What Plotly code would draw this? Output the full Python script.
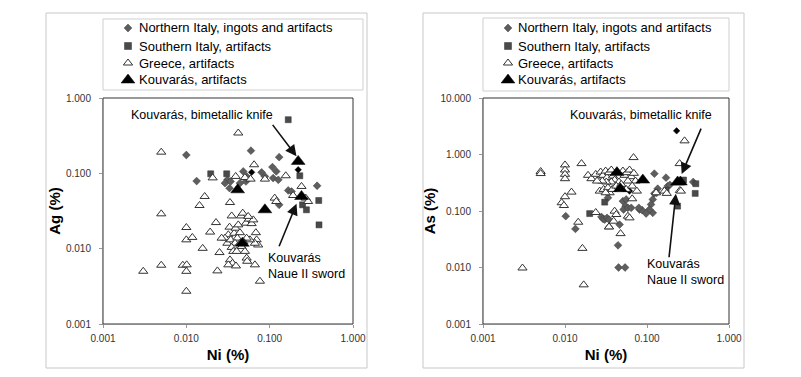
import numpy as np
import plotly.graph_objects as go

# ---------------- data: left panel (Ni vs Ag) ----------------
ag_ni_north_x = [0.010, 0.0133, 0.0596, 0.130, 0.0311, 0.0291, 0.033, 0.0482, 0.0529, 0.0519, 0.044,
                 0.080, 0.0877, 0.108, 0.120, 0.110, 0.127, 0.167, 0.183, 0.371, 0.130, 0.034]
ag_north = [0.175, 0.079, 0.200, 0.164, 0.082, 0.0741, 0.0636, 0.106, 0.091, 0.078, 0.0741,
            0.103, 0.091, 0.121, 0.106, 0.0864, 0.082, 0.0593, 0.0574, 0.0684, 0.0382, 0.078]

ag_ni_south_x = [0.0196, 0.0305, 0.167, 0.230, 0.388, 0.248, 0.276, 0.391]
ag_south = [0.0986, 0.0986, 0.515, 0.0928, 0.0436, 0.0382, 0.0328, 0.0207]

ag_ni_greece_x = [0.005, 0.005, 0.005, 0.00304, 0.010, 0.010, 0.0118, 0.00906, 0.0101, 0.010, 0.010,
                  0.0144, 0.0166, 0.0207, 0.0157, 0.0193, 0.0227, 0.0236, 0.025,
                  0.0334, 0.035, 0.0391, 0.042, 0.065, 0.0505, 0.059, 0.0877, 0.156,
                  0.241, 0.191, 0.271, 0.289, 0.115, 0.120,
                  0.0330, 0.0319, 0.0291, 0.0311, 0.0341, 0.0375, 0.0390, 0.0420, 0.0440, 0.0409,
                  0.0384, 0.0350, 0.0366, 0.0453, 0.0475, 0.0519, 0.0563, 0.0607, 0.0636, 0.0683,
                  0.0697, 0.0728, 0.0665, 0.0580, 0.0529, 0.0482, 0.0461, 0.0440, 0.0402, 0.0505,
                  0.0529, 0.0538, 0.0334, 0.0358, 0.0319, 0.0394, 0.0665, 0.0552, 0.0764, 0.0265]
ag_greece = [0.191, 0.029, 0.00603, 0.00501, 0.0191, 0.0131, 0.0141, 0.00603, 0.0061, 0.0050, 0.00272,
             0.0374, 0.0493, 0.087, 0.0101, 0.0166, 0.0222, 0.00507, 0.00888,
             0.041, 0.0272, 0.091, 0.343, 0.130, 0.088, 0.0838, 0.0838, 0.0928,
             0.067, 0.0508, 0.0469, 0.0423, 0.0469, 0.0423,
             0.0193, 0.0153, 0.0138, 0.0118, 0.0131, 0.0160, 0.0187, 0.0207, 0.0163, 0.0138,
             0.0118, 0.0104, 0.0092, 0.0272, 0.0296, 0.0218, 0.0247, 0.0215, 0.0241, 0.0163,
             0.0131, 0.0112, 0.0118, 0.0131, 0.0138, 0.0124, 0.0107, 0.0118, 0.0092, 0.0092,
             0.0075, 0.0068, 0.0071, 0.0064, 0.0061, 0.0059, 0.0061, 0.0268, 0.0037, 0.0138]

ag_ni_kouv_x = [0.0413, 0.047, 0.0877, 0.220, 0.241]
ag_kouv = [0.0604, 0.0118, 0.0328, 0.144, 0.0493]

ag_ni_other_x = [0.0607, 0.220]
ag_other = [0.103, 0.1115]

# ---------------- data: right panel (Ni vs As) ----------------
as_ni_north_x = [0.0102, 0.0134, 0.0334, 0.0508, 0.0558, 0.0548, 0.0518, 0.0585, 0.0642, 0.0810,
                 0.0873, 0.0795, 0.0278, 0.0291, 0.0305, 0.0325, 0.0344, 0.0463, 0.123, 0.1705,
                 0.179, 0.1176, 0.112, 0.123, 0.135, 0.1314, 0.1176, 0.107, 0.0975, 0.366,
                 0.0443, 0.045, 0.054, 0.190]
as_north = [0.081, 0.0482, 0.1714, 0.1495, 0.160, 0.122, 0.1063, 0.1138, 0.1138, 0.1063,
            0.1035, 0.1138, 0.0787, 0.0726, 0.0706, 0.0756, 0.0706, 0.0575, 0.458, 0.389,
            0.276, 0.160, 0.1305, 0.205, 0.248, 0.210, 0.0928, 0.1063, 0.0903, 0.326,
            0.0247, 0.010, 0.010, 0.29]

as_ni_south_x = [0.0200, 0.0305, 0.171, 0.236, 0.279, 0.394, 0.387]
as_south = [0.090, 0.1436, 0.231, 0.122, 0.353, 0.304, 0.205]

as_ni_greece_x = [0.00303, 0.00505, 0.00505, 0.010, 0.010, 0.010, 0.010, 0.0120, 0.010, 0.0091,
                  0.0097, 0.0145, 0.0159, 0.0163, 0.0169, 0.0344, 0.0476, 0.0685, 0.250, 0.287, 0.252,
                  0.0191, 0.0210, 0.0237, 0.0253, 0.0272, 0.0291, 0.0313, 0.0325, 0.0344, 0.0367,
                  0.0385, 0.0403, 0.0508, 0.0532, 0.0569, 0.0612, 0.0642, 0.0691, 0.0724, 0.0585,
                  0.0455, 0.0367, 0.0319, 0.0285, 0.0246,
                  0.0265, 0.0296, 0.0334, 0.0350, 0.0377, 0.0422, 0.0485, 0.0558, 0.0660, 0.0752,
                  0.0313, 0.0660, 0.0237, 0.0403, 0.0422, 0.0392, 0.0585, 0.0612, 0.0344, 0.129,
                  0.163, 0.174, 0.259]
as_greece = [0.0098, 0.50, 0.46, 0.653, 0.532, 0.446, 0.373, 0.216, 0.179, 0.140,
             0.125, 0.0633, 0.690, 0.0218, 0.00493, 0.0524, 0.0398, 0.882, 0.69, 1.744, 0.231,
             0.428, 0.373, 0.446, 0.353, 0.490, 0.428, 0.510, 0.389, 0.477, 0.532,
             0.416, 0.353, 0.510, 0.428, 0.477, 0.532, 0.405, 0.464, 0.339, 0.339,
             0.326, 0.326, 0.326, 0.339, 0.339,
             0.225, 0.241, 0.258, 0.210, 0.241, 0.276, 0.296, 0.241, 0.276, 0.225,
             0.210, 0.1645, 0.094, 0.0993, 0.0867, 0.066, 0.0809, 0.0756, 0.0523, 0.210,
             0.225, 0.205, 0.225]

as_ni_kouv_x = [0.043, 0.0472, 0.0889, 0.236, 0.255]
as_kouv = [0.478, 0.248, 0.353, 0.326, 0.326]

as_ni_other_x = [0.0612, 0.2296]
as_other = [0.225, 2.62]

series_names = ["Northern Italy, ingots and artifacts", "Southern Italy, artifacts",
                "Greece, artifacts", "Kouvarás, artifacts"]

# ---------------- styles / geometry ----------------
FONT = "Liberation Sans, Arial, sans-serif"
WIN_W, WIN_H = 801, 377
OFF = 8                      # default page body margin
W, H = WIN_W - OFF, WIN_H - OFF
styles = [
    dict(symbol="diamond", size=6, color="#5e5e5e", line=dict(color="#3a3a3a", width=0.5)),
    dict(symbol="square", size=6, color="#4a4a4a", line=dict(color="#303030", width=0.5)),
    dict(symbol="triangle-up", size=8, color="white", line=dict(color="#333333", width=1)),
    dict(symbol="triangle-up", size=12, color="black", line=dict(color="black", width=0.5)),
]
legend_sizes = [6, 7, 8, 12]
other_style = dict(symbol="diamond", size=5, color="black", line=dict(color="black", width=0.5))


def px_x(p):
    return (p - OFF) / W


def px_y(p):
    return 1 - (p - OFF) / H


fig = go.Figure()

panels = [
    ("x", "y", [(ag_ni_north_x, ag_north), (ag_ni_south_x, ag_south),
                (ag_ni_greece_x, ag_greece), (ag_ni_kouv_x, ag_kouv)],
     (ag_ni_other_x, ag_other)),
    ("x2", "y2", [(as_ni_north_x, as_north), (as_ni_south_x, as_south),
                  (as_ni_greece_x, as_greece), (as_ni_kouv_x, as_kouv)],
     (as_ni_other_x, as_other)),
]

for xa, ya, data, other in panels:
    for i, (xs, ys) in enumerate(data):
        if i == 2:
            fig.add_trace(go.Scatter(x=other[0], y=other[1], mode="markers", marker=other_style,
                                     xaxis=xa, yaxis=ya, showlegend=False, hoverinfo="skip"))
        fig.add_trace(go.Scatter(x=xs, y=ys, mode="markers", name=series_names[i],
                                 marker=styles[i], xaxis=xa, yaxis=ya, showlegend=False))

# ---------------- legend keys (drawn on a pixel overlay axis) ----------------
legend_rows = [28, 46, 63, 80]
legend_cols = [(128, 137), (508, 516)]  # (marker x, text x) per panel
for mx, tx in legend_cols:
    for i, name in enumerate(series_names):
        st = dict(styles[i])
        st["size"] = legend_sizes[i]
        fig.add_trace(go.Scatter(x=[mx], y=[legend_rows[i]], mode="markers", marker=st,
                                 xaxis="x3", yaxis="y3", showlegend=False, hoverinfo="skip",
                                 name=name))

# plot areas in window pixels
L_X0, L_X1 = 103, 353
R_X0, R_X1 = 483, 729
P_Y0, P_Y1 = 98, 324

tick_font = dict(family=FONT, size=10, color="#333333")
title_font = dict(family=FONT, size=15, color="black")


def xaxis_cfg(x0, x1):
    return dict(type="log", range=[-3, 0], domain=[px_x(x0), px_x(x1)],
                tickvals=[0.001, 0.01, 0.1, 1], ticktext=["0.001", "0.010", "0.100", "1.000"],
                ticks="outside", ticklen=3, tickcolor="#999999", showline=True, linecolor="#888888",
                linewidth=1, showgrid=False, zeroline=False, tickfont=tick_font,
                ticklabelstandoff=2,
                title=dict(text="<b>Ni (%)</b>", font=title_font, standoff=6), automargin=False,
                fixedrange=True)


def yaxis_cfg(rng, vals, texts, anchor, title):
    return dict(type="log", range=rng, domain=[px_y(P_Y1), px_y(P_Y0)], anchor=anchor,
                tickvals=vals, ticktext=texts,
                ticks="outside", ticklen=3, tickcolor="#999999", showline=True, linecolor="#888888",
                showgrid=False, zeroline=False, tickfont=tick_font, ticklabelstandoff=6,
                title=dict(text=title, font=title_font, standoff=1), automargin=False,
                fixedrange=True)


fig.update_layout(
    width=W, height=H, margin=dict(l=0, r=0, t=0, b=0),
    paper_bgcolor="white", plot_bgcolor="rgba(0,0,0,0)", font=dict(family=FONT),
    showlegend=False,
    xaxis=xaxis_cfg(L_X0, L_X1),
    xaxis2=xaxis_cfg(R_X0, R_X1),
    yaxis=yaxis_cfg([-3, 0], [0.001, 0.01, 0.1, 1], ["0.001", "0.010", "0.100", "1.000"],
                    "x", "<b>Ag (%)</b>"),
    yaxis2=yaxis_cfg([-3, 1], [0.001, 0.01, 0.1, 1, 10],
                     ["0.001", "0.010", "0.100", "1.000", "10.000"], "x2", "<b>As (%)</b>"),
    xaxis3=dict(domain=[0, 1], range=[OFF, WIN_W], visible=False, fixedrange=True, anchor="y3"),
    yaxis3=dict(domain=[0, 1], range=[WIN_H, OFF], visible=False, fixedrange=True, anchor="x3"),
)

shapes = []
for x0, x1 in [(46, 367), (423, 744)]:
    shapes.append(dict(type="rect", xref="paper", yref="paper", x0=px_x(x0), x1=px_x(x1),
                       y0=px_y(368), y1=px_y(13), line=dict(color="#c8c8c8", width=1), layer="below"))
for x0, x1, y0, y1 in [(103, 363, 19, 90), (483, 729, 18, 91)]:
    shapes.append(dict(type="rect", xref="paper", yref="paper", x0=px_x(x0), x1=px_x(x1),
                       y0=px_y(y1), y1=px_y(y0), line=dict(color="#cfcfcf", width=1), layer="below"))
for x0, x1 in [(L_X0, L_X1), (R_X0, R_X1)]:
    shapes.append(dict(type="rect", xref="paper", yref="paper", x0=px_x(x0), x1=px_x(x1),
                       y0=px_y(P_Y1), y1=px_y(P_Y0), line=dict(color="#333333", width=1), layer="below"))
fig.update_layout(shapes=shapes)

ann_font = dict(family=FONT, size=12.5, color="black")
annotations = []
for mx, tx in legend_cols:
    for i, name in enumerate(series_names):
        annotations.append(dict(xref="paper", yref="paper", x=px_x(tx), y=px_y(legend_rows[i]),
                                text=name, showarrow=False, xanchor="left", yanchor="middle",
                                font=dict(family=FONT, size=13, color="black")))
for x, y, txt in [(129, 115, "Kouvarás, bimetallic knife"), (266, 266, "Kouvarás<br>Naue II sword"),
                  (568, 115, "Kouvarás, bimetallic knife"), (645, 272, "Kouvarás<br>Naue II sword")]:
    annotations.append(dict(xref="paper", yref="paper", x=px_x(x), y=px_y(y), text=txt,
                            showarrow=False, xanchor="left", yanchor="middle", align="left",
                            font=ann_font))
for xr, yr, tx, ty, ax, ay in [("x", "y", 0.210, 0.168, -25, -33), ("x", "y", 0.210, 0.0394, -18, 44),
                               ("x2", "y2", 0.265, 0.45, 20, -47), ("x2", "y2", 0.225, 0.202, -7, 65)]:
    annotations.append(dict(xref=xr, yref=yr, x=np.log10(tx), y=np.log10(ty), text="",
                            showarrow=True, arrowhead=2, arrowsize=1.4, arrowwidth=1.6,
                            arrowcolor="#111111", ax=ax, ay=ay, standoff=0))
fig.update_layout(annotations=annotations)

fig.write_html("out.html")
